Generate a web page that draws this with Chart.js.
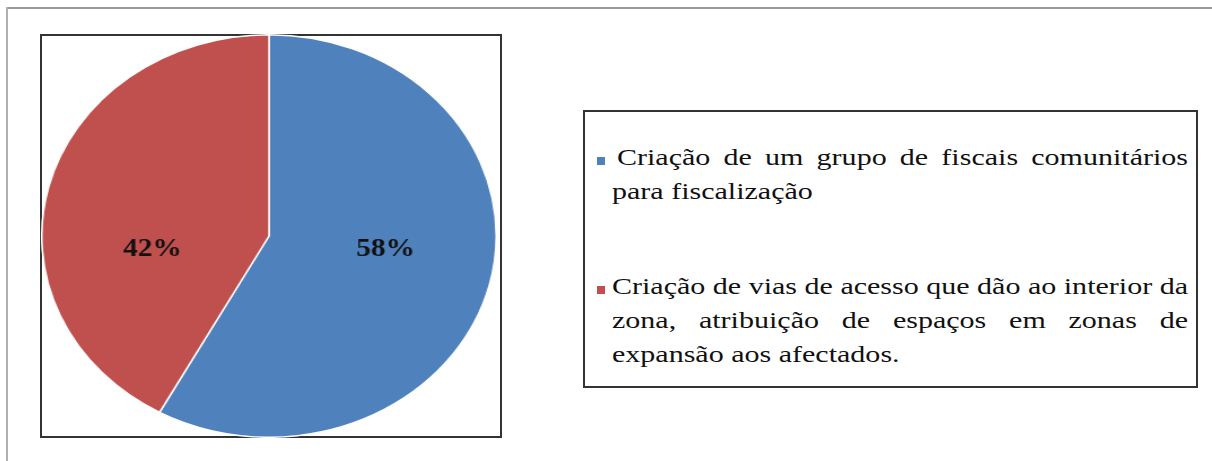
<!DOCTYPE html>
<html>
<head>
<meta charset="utf-8">
<script src="https://cdn.jsdelivr.net/npm/chart.js@4.4.1/dist/chart.umd.min.js"></script>
<style>
  html, body { margin: 0; padding: 0; background: #fff; }
  body { width: 1212px; height: 461px; position: relative; overflow: hidden; font-family: "Liberation Serif", "DejaVu Serif", serif; }
  #outerTop { position: absolute; left: 7px; top: 7px; width: 1205px; height: 0; border-top: 2px solid #9a9a9a; }
  #outerLeft { position: absolute; left: 6px; top: 7px; width: 0; height: 454px; border-left: 2px solid #b0b0b0; }
  #pieBox { position: absolute; left: 40px; top: 34px; width: 458px; height: 400px; border: 2px solid #333; }
  #pieWrap { position: absolute; left: 67px; top: 34px; width: 404px; height: 404px; transform: scaleX(1.129); transform-origin: 50% 50%; }
  #legendBox { position: absolute; left: 583px; top: 110px; width: 611px; height: 274px; border: 2px solid #333; }
  .marker { position: absolute; width: 8px; height: 8px; }
  .line { position: absolute; left: 0; white-space: nowrap; font-family: "Liberation Serif", "DejaVu Serif", serif; font-size: 24px; line-height: 28px; color: #111; transform-origin: 0 0; }
</style>
</head>
<body>
<div id="outerTop"></div>
<div id="outerLeft"></div>
<div id="pieBox"></div>
<div id="pieWrap"><canvas id="c" width="404" height="404"></canvas></div>
<div id="legendBox"></div>
<script>
const categories = [
  "Criação de um grupo de fiscais comunitários para fiscalização",
  "Criação de vias de acesso que dão ao interior da zona, atribuição de espaços em zonas de expansão aos afectados."
];
const values = [58, 42];
const colors = ["#4F81BD", "#C0504D"];
const percentLabels = ["58%", "42%"];

const labelPlugin = {
  id: 'pctLabels',
  afterDatasetsDraw(chart) {
    const ctx = chart.ctx;
    const meta = chart.getDatasetMeta(0);
    ctx.save();
    ctx.font = 'bold 26px "Liberation Serif", serif';
    ctx.fillStyle = '#111';
    ctx.textAlign = 'center';
    ctx.textBaseline = 'middle';
    meta.data.forEach((arc, i) => {
      const p = arc.getProps(['x','y','startAngle','endAngle','outerRadius'], true);
      const mid = (p.startAngle + p.endAngle) / 2;
      const x = p.x + Math.cos(mid) * p.outerRadius * 0.53;
      const y = p.y + p.outerRadius * 0.065;
      ctx.fillText(percentLabels[i], x, y);
    });
    ctx.restore();
  }
};

new Chart(document.getElementById('c'), {
  type: 'pie',
  data: {
    labels: categories,
    datasets: [{
      data: values,
      backgroundColor: colors,
      borderColor: '#ffffff',
      borderWidth: 1.5
    }]
  },
  options: {
    responsive: false,
    animation: false,
    layout: { padding: 0 },
    plugins: { legend: { display: false }, tooltip: { enabled: false } }
  },
  plugins: [labelPlugin]
});

// Legend (HTML), lines broken and justified as in the reference
document.fonts.ready.then(buildLegend);
function buildLegend() {
  const legendBox = document.getElementById('legendBox');
  const breaks = [[7], [10, 17]]; // word indices where lines break
  const itemTops = [35, 164];
  const lineGap = 34;
  const textLeft = 27;
  const textRight = 603;
  const mctx = document.createElement('canvas').getContext('2d');
  mctx.font = '24px "Liberation Serif"';
  const sp = mctx.measureText(' ').width;
  const w0 = mctx.measureText(categories[1].split(' ').slice(0, 10).join(' ')).width;
  const sx = (textRight - textLeft) / w0;
  categories.forEach((label, i) => {
    const words = label.split(' ');
    const lines = [];
    let start = 0;
    breaks[i].concat([words.length]).forEach(b => { lines.push(words.slice(start, b)); start = b; });
    const marker = document.createElement('div');
    marker.className = 'marker';
    marker.style.background = colors[i];
    marker.style.left = '12px';
    marker.style.top = (itemTops[i] + 10) + 'px';
    legendBox.appendChild(marker);
    lines.forEach((ws, j) => {
      const d = document.createElement('div');
      d.className = 'line';
      d.style.top = (itemTops[i] + j * lineGap - 4) + 'px';
      const lead = (i === 0 && j === 0) ? 5 : 0;
      d.style.left = (textLeft + lead) + 'px';
      d.style.transform = 'scaleX(' + sx + ')';
      const last = j === lines.length - 1;
      const avail = (textRight - textLeft - lead) / sx;
      const wordsW = ws.reduce((s, w) => s + mctx.measureText(w).width, 0);
      const gap = last ? sp : (avail - wordsW) / (ws.length - 1);
      let x = 0;
      ws.forEach(w => {
        const s = document.createElement('span');
        s.textContent = w;
        s.style.position = 'absolute';
        s.style.left = x + 'px';
        d.appendChild(s);
        x += mctx.measureText(w).width + gap;
      });
      legendBox.appendChild(d);
    });
  });
}
</script>
</body>
</html>
